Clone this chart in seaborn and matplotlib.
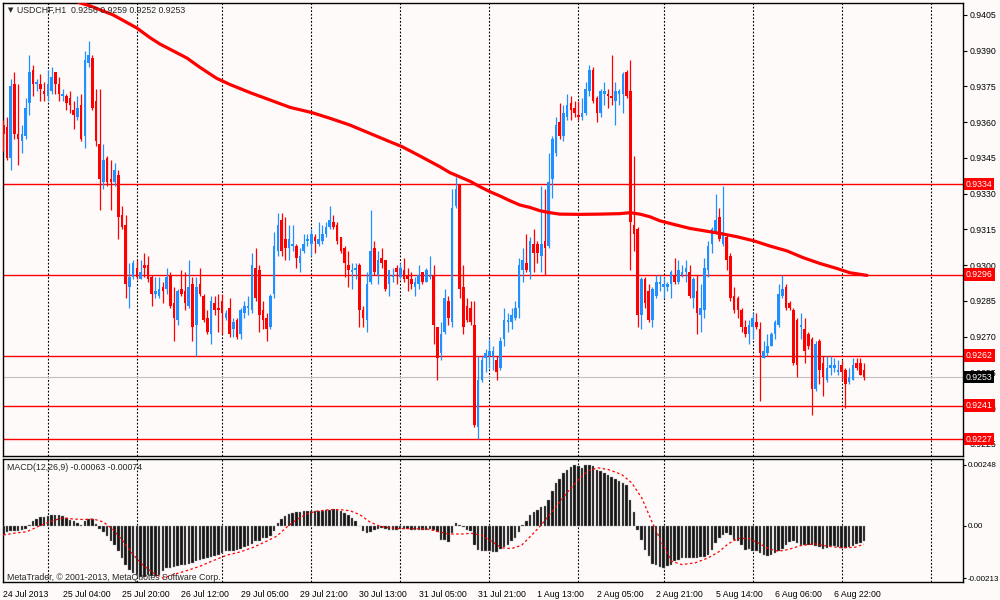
import numpy as np
import pandas as pd
import seaborn as sns
import matplotlib
matplotlib.use("Agg")
import matplotlib.pyplot as plt
import matplotlib.transforms as mtransforms

# USDCHF H1, one row per hourly bar (bar index 0 = 24 Jul 2013 12:00)
opens = [0.9359, 0.9358, 0.9345, 0.9376, 0.9355, 0.9352, 0.9354, 0.9368, 0.9382, 0.9376,
         0.9376, 0.9373, 0.9371, 0.9373, 0.9381, 0.9376, 0.9371, 0.9371, 0.9370, 0.9365,
         0.9362, 0.9367, 0.9354, 0.9385, 0.9387, 0.9369, 0.9351, 0.9335, 0.9345, 0.9336,
         0.9335, 0.9338, 0.9321, 0.9317, 0.9291, 0.9295, 0.9299, 0.9294, 0.9300, 0.9300,
         0.9295, 0.9288, 0.9287, 0.9291, 0.9290, 0.9296, 0.9284, 0.9277, 0.9290, 0.9289,
         0.9283, 0.9292, 0.9275, 0.9292, 0.9287, 0.9278, 0.9271, 0.9284, 0.9282, 0.9285,
         0.9278, 0.9282, 0.9273, 0.9277, 0.9271, 0.9280, 0.9282, 0.9281, 0.9299, 0.9298,
         0.9281, 0.9278, 0.9274, 0.9288, 0.9306, 0.9319, 0.9311, 0.9307, 0.9308, 0.9308,
         0.9301, 0.9306, 0.9310, 0.9309, 0.9312, 0.9309, 0.9310, 0.9313, 0.9316, 0.9318,
         0.9317, 0.9312, 0.9307, 0.9300, 0.9297, 0.9298, 0.9300, 0.9281, 0.9277, 0.9293,
         0.9307, 0.9296, 0.9303, 0.9302, 0.9292, 0.9295, 0.9299, 0.9295, 0.9298, 0.9296,
         0.9294, 0.9291, 0.9292, 0.9297, 0.9293, 0.9295, 0.9296, 0.9274, 0.9263, 0.9272,
         0.9285, 0.9276, 0.9325, 0.9334, 0.9291, 0.9283, 0.9282, 0.9275, 0.9232, 0.9252,
         0.9261, 0.9262, 0.9262, 0.9260, 0.9257, 0.9269, 0.9276, 0.9276, 0.9278, 0.9282,
         0.9298, 0.9301, 0.9297, 0.9309, 0.9309, 0.9304, 0.9310, 0.9308, 0.9336, 0.9347,
         0.9360, 0.9354, 0.9362, 0.9368, 0.9366, 0.9363, 0.9362, 0.9364, 0.9373, 0.9382,
         0.9370, 0.9364, 0.9372, 0.9372, 0.9371, 0.9369, 0.9372, 0.9372, 0.9381, 0.9373,
         0.9317, 0.9315, 0.9279, 0.9294, 0.9289, 0.9277, 0.9287, 0.9292, 0.9291, 0.9291,
         0.9292, 0.9296, 0.9293, 0.9296, 0.9297, 0.9297, 0.9286, 0.9289, 0.9279, 0.9281,
         0.9298, 0.9309, 0.9314, 0.9320, 0.9309, 0.9312, 0.9304, 0.9287, 0.9286, 0.9281,
         0.9274, 0.9271, 0.9274, 0.9276, 0.9273, 0.9261, 0.9263, 0.9266, 0.9271, 0.9275,
         0.9287, 0.9291, 0.9284, 0.9281, 0.9277, 0.9274, 0.9273, 0.9271, 0.9269, 0.9248,
         0.9268, 0.9259, 0.9252, 0.9257, 0.9257, 0.9255, 0.9258, 0.9256, 0.9251, 0.9252,
         0.9259, 0.9259, 0.9256]
highs = [0.9361, 0.9362, 0.9378, 0.9381, 0.9376, 0.9359, 0.9370, 0.9388, 0.9384, 0.9378,
         0.9380, 0.9377, 0.9382, 0.9383, 0.9381, 0.9379, 0.9374, 0.9372, 0.9373, 0.9369,
         0.9371, 0.9372, 0.9390, 0.9394, 0.9388, 0.9374, 0.9374, 0.9351, 0.9346, 0.9344,
         0.9343, 0.9340, 0.9325, 0.9321, 0.9301, 0.9302, 0.9302, 0.9302, 0.9305, 0.9304,
         0.9296, 0.9295, 0.9295, 0.9293, 0.9299, 0.9297, 0.9291, 0.9290, 0.9298, 0.9297,
         0.9302, 0.9295, 0.9295, 0.9299, 0.9288, 0.9281, 0.9287, 0.9287, 0.9288, 0.9288,
         0.9281, 0.9286, 0.9278, 0.9278, 0.9282, 0.9285, 0.9287, 0.9305, 0.9307, 0.9300,
         0.9285, 0.9280, 0.9288, 0.9314, 0.9322, 0.9322, 0.9320, 0.9317, 0.9317, 0.9309,
         0.9307, 0.9313, 0.9313, 0.9315, 0.9313, 0.9318, 0.9317, 0.9318, 0.9325, 0.9321,
         0.9318, 0.9312, 0.9308, 0.9306, 0.9301, 0.9301, 0.9301, 0.9283, 0.9297, 0.9323,
         0.9310, 0.9306, 0.9307, 0.9302, 0.9298, 0.9299, 0.9300, 0.9301, 0.9303, 0.9299,
         0.9297, 0.9295, 0.9300, 0.9297, 0.9299, 0.9304, 0.9300, 0.9274, 0.9276, 0.9290,
         0.9287, 0.9332, 0.9337, 0.9334, 0.9300, 0.9286, 0.9285, 0.9285, 0.9262, 0.9262,
         0.9265, 0.9269, 0.9266, 0.9262, 0.9270, 0.9282, 0.9280, 0.9282, 0.9285, 0.9303,
         0.9307, 0.9313, 0.9312, 0.9315, 0.9310, 0.9333, 0.9332, 0.9347, 0.9354, 0.9362,
         0.9368, 0.9367, 0.9372, 0.9371, 0.9369, 0.9369, 0.9370, 0.9377, 0.9384, 0.9383,
         0.9371, 0.9374, 0.9377, 0.9374, 0.9388, 0.9377, 0.9374, 0.9381, 0.9382, 0.9386,
         0.9346, 0.9316, 0.9295, 0.9295, 0.9292, 0.9291, 0.9296, 0.9296, 0.9295, 0.9293,
         0.9298, 0.9303, 0.9302, 0.9300, 0.9302, 0.9300, 0.9295, 0.9296, 0.9292, 0.9303,
         0.9310, 0.9316, 0.9330, 0.9324, 0.9333, 0.9313, 0.9305, 0.9291, 0.9287, 0.9282,
         0.9277, 0.9277, 0.9280, 0.9280, 0.9276, 0.9268, 0.9271, 0.9272, 0.9277, 0.9292,
         0.9296, 0.9292, 0.9285, 0.9282, 0.9278, 0.9280, 0.9278, 0.9272, 0.9270, 0.9268,
         0.9269, 0.9262, 0.9262, 0.9262, 0.9261, 0.9260, 0.9260, 0.9257, 0.9257, 0.9261,
         0.9261, 0.9261, 0.9259]
lows = [0.9348, 0.9344, 0.9340, 0.9353, 0.9342, 0.9347, 0.9353, 0.9363, 0.9371, 0.9373,
        0.9369, 0.9369, 0.9369, 0.9372, 0.9372, 0.9369, 0.9369, 0.9365, 0.9364, 0.9357,
        0.9361, 0.9352, 0.9349, 0.9383, 0.9365, 0.9350, 0.9323, 0.9332, 0.9333, 0.9323,
        0.9333, 0.9311, 0.9315, 0.9286, 0.9282, 0.9294, 0.9294, 0.9294, 0.9295, 0.9293,
        0.9283, 0.9286, 0.9286, 0.9284, 0.9288, 0.9282, 0.9268, 0.9275, 0.9287, 0.9281,
        0.9282, 0.9268, 0.9262, 0.9287, 0.9276, 0.9271, 0.9267, 0.9279, 0.9272, 0.9271,
        0.9277, 0.9270, 0.9270, 0.9269, 0.9269, 0.9278, 0.9279, 0.9280, 0.9285, 0.9272,
        0.9273, 0.9268, 0.9273, 0.9286, 0.9304, 0.9304, 0.9302, 0.9302, 0.9306, 0.9299,
        0.9297, 0.9305, 0.9308, 0.9304, 0.9305, 0.9308, 0.9309, 0.9312, 0.9315, 0.9315,
        0.9309, 0.9305, 0.9295, 0.9291, 0.9290, 0.9294, 0.9274, 0.9274, 0.9272, 0.9292,
        0.9296, 0.9292, 0.9299, 0.9289, 0.9287, 0.9293, 0.9292, 0.9294, 0.9293, 0.9289,
        0.9290, 0.9287, 0.9290, 0.9292, 0.9293, 0.9294, 0.9267, 0.9252, 0.9260, 0.9271,
        0.9275, 0.9274, 0.9324, 0.9286, 0.9271, 0.9276, 0.9275, 0.9232, 0.9227, 0.9251,
        0.9255, 0.9257, 0.9256, 0.9252, 0.9256, 0.9266, 0.9272, 0.9273, 0.9277, 0.9278,
        0.9293, 0.9297, 0.9294, 0.9297, 0.9301, 0.9297, 0.9296, 0.9307, 0.9328, 0.9346,
        0.9353, 0.9352, 0.9361, 0.9361, 0.9362, 0.9361, 0.9361, 0.9363, 0.9371, 0.9368,
        0.9360, 0.9362, 0.9367, 0.9366, 0.9367, 0.9359, 0.9367, 0.9364, 0.9370, 0.9298,
        0.9306, 0.9274, 0.9273, 0.9282, 0.9276, 0.9274, 0.9286, 0.9289, 0.9286, 0.9289,
        0.9286, 0.9292, 0.9292, 0.9295, 0.9293, 0.9286, 0.9282, 0.9271, 0.9272, 0.9278,
        0.9295, 0.9305, 0.9313, 0.9310, 0.9308, 0.9298, 0.9285, 0.9280, 0.9278, 0.9272,
        0.9270, 0.9267, 0.9269, 0.9273, 0.9243, 0.9261, 0.9262, 0.9266, 0.9269, 0.9274,
        0.9286, 0.9281, 0.9281, 0.9258, 0.9253, 0.9269, 0.9259, 0.9265, 0.9237, 0.9247,
        0.9250, 0.9245, 0.9251, 0.9254, 0.9255, 0.9254, 0.9252, 0.9240, 0.9250, 0.9252,
        0.9256, 0.9254, 0.9252]
closes = [0.9355, 0.9345, 0.9375, 0.9355, 0.9353, 0.9355, 0.9366, 0.9381, 0.9376, 0.9377,
          0.9374, 0.9372, 0.9376, 0.9379, 0.9376, 0.9372, 0.9372, 0.9368, 0.9367, 0.9363,
          0.9366, 0.9353, 0.9386, 0.9388, 0.9366, 0.9352, 0.9336, 0.9344, 0.9335, 0.9335,
          0.9340, 0.9320, 0.9316, 0.9292, 0.9295, 0.9301, 0.9295, 0.9297, 0.9299, 0.9294,
          0.9288, 0.9289, 0.9290, 0.9289, 0.9295, 0.9283, 0.9278, 0.9289, 0.9288, 0.9284,
          0.9291, 0.9274, 0.9291, 0.9288, 0.9277, 0.9272, 0.9285, 0.9281, 0.9281, 0.9280,
          0.9280, 0.9271, 0.9276, 0.9270, 0.9281, 0.9283, 0.9283, 0.9300, 0.9286, 0.9279,
          0.9277, 0.9273, 0.9287, 0.9308, 0.9317, 0.9306, 0.9307, 0.9311, 0.9309, 0.9303,
          0.9304, 0.9309, 0.9311, 0.9313, 0.9310, 0.9311, 0.9313, 0.9316, 0.9319, 0.9316,
          0.9310, 0.9306, 0.9301, 0.9298, 0.9298, 0.9299, 0.9281, 0.9278, 0.9292, 0.9306,
          0.9297, 0.9302, 0.9301, 0.9290, 0.9298, 0.9296, 0.9297, 0.9299, 0.9294, 0.9294,
          0.9292, 0.9293, 0.9296, 0.9293, 0.9298, 0.9296, 0.9275, 0.9261, 0.9271, 0.9286,
          0.9278, 0.9324, 0.9332, 0.9290, 0.9274, 0.9277, 0.9276, 0.9233, 0.9252, 0.9260,
          0.9263, 0.9264, 0.9264, 0.9255, 0.9268, 0.9277, 0.9277, 0.9279, 0.9282, 0.9300,
          0.9302, 0.9298, 0.9310, 0.9305, 0.9305, 0.9309, 0.9307, 0.9335, 0.9353, 0.9359,
          0.9354, 0.9364, 0.9367, 0.9365, 0.9364, 0.9362, 0.9364, 0.9374, 0.9382, 0.9369,
          0.9364, 0.9373, 0.9373, 0.9371, 0.9370, 0.9373, 0.9373, 0.9380, 0.9371, 0.9318,
          0.9313, 0.9279, 0.9294, 0.9284, 0.9277, 0.9290, 0.9293, 0.9293, 0.9292, 0.9292,
          0.9297, 0.9293, 0.9298, 0.9297, 0.9299, 0.9287, 0.9294, 0.9280, 0.9282, 0.9299,
          0.9308, 0.9315, 0.9319, 0.9311, 0.9314, 0.9302, 0.9286, 0.9281, 0.9281, 0.9274,
          0.9271, 0.9275, 0.9278, 0.9274, 0.9263, 0.9264, 0.9266, 0.9271, 0.9276, 0.9288,
          0.9290, 0.9282, 0.9282, 0.9259, 0.9258, 0.9275, 0.9264, 0.9266, 0.9248, 0.9267,
          0.9256, 0.9253, 0.9257, 0.9258, 0.9258, 0.9256, 0.9255, 0.9250, 0.9253, 0.9258,
          0.9257, 0.9254, 0.9253]

# MACD(12,26,9) main line, one value per bar
macd = [-0.00038, -0.00024, -0.00022, -0.00019, -0.00019, -0.00016, -0.00011, 0.00005, 0.00019, 0.00030,
        0.00035, 0.00035, 0.00042, 0.00046, 0.00046, 0.00043, 0.00039, 0.00033, 0.00026, 0.00019,
        0.00011, 0.00005, 0.00019, 0.00028, 0.00028, 0.00008, -0.00011, -0.00024, -0.00043, -0.00062,
        -0.00079, -0.00103, -0.00130, -0.00157, -0.00178, -0.00191, -0.00198, -0.00209, -0.00209, -0.00201,
        -0.00205, -0.00205, -0.00198, -0.00184, -0.00173, -0.00171, -0.00168, -0.00164, -0.00160, -0.00157,
        -0.00154, -0.00150, -0.00144, -0.00137, -0.00133, -0.00130, -0.00127, -0.00123, -0.00117, -0.00110,
        -0.00103, -0.00100, -0.00100, -0.00096, -0.00092, -0.00087, -0.00083, -0.00073, -0.00062, -0.00060,
        -0.00051, -0.00049, -0.00042, -0.00022, 0.00012, 0.00030, 0.00039, 0.00049, 0.00053, 0.00057,
        0.00057, 0.00060, 0.00060, 0.00062, 0.00062, 0.00062, 0.00062, 0.00064, 0.00066, 0.00069,
        0.00066, 0.00060, 0.00053, 0.00043, 0.00033, 0.00019, -0.00001, -0.00019, -0.00028, -0.00024,
        -0.00015, -0.00011, -0.00008, -0.00012, -0.00015, -0.00015, -0.00015, -0.00014, -0.00011, -0.00011,
        -0.00015, -0.00016, -0.00015, -0.00015, -0.00015, -0.00014, -0.00015, -0.00023, -0.00058, -0.00056,
        -0.00065, -0.00028, 0.00012, 0.00005, -0.00005, -0.00015, -0.00022, -0.00079, -0.00096, -0.00103,
        -0.00103, -0.00103, -0.00106, -0.00106, -0.00092, -0.00087, -0.00076, -0.00062, -0.00049, -0.00024,
        0.00005, 0.00019, 0.00043, 0.00057, 0.00066, 0.00076, 0.00080, 0.00107, 0.00141, 0.00175,
        0.00192, 0.00215, 0.00229, 0.00238, 0.00247, 0.00243, 0.00236, 0.00247, 0.00248, 0.00243,
        0.00229, 0.00222, 0.00215, 0.00206, 0.00198, 0.00192, 0.00184, 0.00175, 0.00165, 0.00107,
        0.00057, -0.00015, -0.00056, -0.00096, -0.00123, -0.00154, -0.00160, -0.00168, -0.00171, -0.00164,
        -0.00157, -0.00144, -0.00137, -0.00130, -0.00130, -0.00130, -0.00130, -0.00130, -0.00127, -0.00127,
        -0.00117, -0.00096, -0.00069, -0.00049, -0.00038, -0.00028, -0.00035, -0.00056, -0.00060, -0.00079,
        -0.00096, -0.00092, -0.00100, -0.00103, -0.00110, -0.00119, -0.00123, -0.00119, -0.00110, -0.00103,
        -0.00092, -0.00079, -0.00065, -0.00062, -0.00069, -0.00076, -0.00079, -0.00079, -0.00079, -0.00083,
        -0.00087, -0.00092, -0.00089, -0.00083, -0.00083, -0.00087, -0.00089, -0.00089, -0.00087, -0.00080,
        -0.00074, -0.00069, -0.00063]

# MACD signal line, read at sample bars
sig_bars = [0, 3.6, 6.3, 9.0, 11.7, 14.4, 16.2, 18.9, 21.6, 24.3, 27.0, 29.6, 32.3, 35.0, 37.7,
            40.4, 43.1, 45.8, 49.4, 53.0, 56.6, 60.2, 63.8, 67.4, 71.0, 73.7, 76.4, 79.1, 81.8,
            84.5, 88.0, 90.7, 93.4, 96.1, 98.8, 101.5, 104.2, 106.9, 110.5, 114.1, 116.4, 120.0,
            123.6, 126.2, 128.9, 131.6, 134.3, 137.0, 139.7, 142.4, 145.1, 148.7, 152.3, 155.0,
            157.7, 160.4, 163.1, 166.7, 169.4, 172.1, 174.8, 177.5, 180.2, 182.9, 186.5, 190.0,
            192.8, 195.4, 198.1, 200.8, 203.5, 206.2, 208.9, 211.6, 215.2, 218.8, 222.4, 226.0,
            229.6, 232.0]
sig_vals = [-0.00037, -0.00028, -0.00024, -0.00005, 0.00012, 0.00026, 0.00033, 0.00028, 0.00026,
            0.00028, 0.00016, -0.00015, -0.00062, -0.00117, -0.00160, -0.00191, -0.00212, -0.00198,
            -0.00182, -0.00164, -0.00141, -0.00119, -0.00106, -0.00087, -0.00062, -0.00042, -0.00005,
            0.00026, 0.00049, 0.00060, 0.00066, 0.00066, 0.00062, 0.00046, 0.00016, -0.00001,
            -0.00008, -0.00011, -0.00011, -0.00012, -0.00020, -0.00033, -0.00033, -0.00030, -0.00038,
            -0.00062, -0.00089, -0.00092, -0.00079, -0.00038, 0.00005, 0.00073, 0.00141, 0.00188,
            0.00225, 0.00236, 0.00229, 0.00209, 0.00175, 0.00114, 0.00019, -0.00069, -0.00144,
            -0.00157, -0.00150, -0.00130, -0.00106, -0.00073, -0.00051, -0.00051, -0.00069, -0.00092,
            -0.00103, -0.00096, -0.00079, -0.00073, -0.00083, -0.00089, -0.00087, -0.00074]

# moving average (thick red), read at sample bars
ma_bars = [18.0, 20.7, 23.4, 29.6, 36.0, 39.5, 42.2, 49.5, 53.0, 57.5, 61.1, 66.5, 71.9, 77.3,
           83.2, 88.1, 93.4, 98.8, 104.2, 107.5, 112.3, 117.7, 120.4, 125.8, 128.5, 131.2, 133.9,
           136.6, 139.3, 142.0, 144.7, 147.4, 150.0, 155.4, 160.8, 166.2, 168.9, 171.6, 174.3,
           177.0, 179.7, 185.1, 188.6, 193.2, 197.8, 202.3, 206.7, 211.2, 215.5, 220.1, 224.7,
           228.2, 232.8]
ma_vals = [0.94125, 0.94100, 0.94088, 0.94050, 0.93995, 0.93955, 0.93928, 0.93869, 0.93830,
           0.93784, 0.93758, 0.93724, 0.93693, 0.93662, 0.93640, 0.93616, 0.93588, 0.93553,
           0.93518, 0.93497, 0.93458, 0.93413, 0.93388, 0.93352, 0.93329, 0.93308, 0.93290,
           0.93270, 0.93252, 0.93242, 0.93228, 0.93220, 0.93214, 0.93213, 0.93214, 0.93216,
           0.93220, 0.93214, 0.93203, 0.93186, 0.93175, 0.93154, 0.93145, 0.93133, 0.93119,
           0.93102, 0.93080, 0.93060, 0.93032, 0.93007, 0.92986, 0.92968, 0.92957]

# horizontal levels drawn on the chart
levels = [0.9334, 0.9296, 0.9262, 0.9241, 0.9227]
bid = 0.9253

# day separators (bar index of first bar of each day)
day_bars = [12, 36, 59, 83, 107, 131, 155, 178, 202, 226, 250]

time_bars = [0, 16, 32, 48, 64, 80, 96, 112, 128, 144, 160, 176, 192, 208, 224]
time_labels = ["24 Jul 2013", "25 Jul 04:00", "25 Jul 20:00", "26 Jul 12:00", "29 Jul 05:00",
               "29 Jul 21:00", "30 Jul 13:00", "31 Jul 05:00", "31 Jul 21:00", "1 Aug 13:00",
               "2 Aug 05:00", "2 Aug 21:00", "5 Aug 14:00", "6 Aug 06:00", "6 Aug 22:00"]

price_ticks = [0.9225, 0.9240, 0.9255, 0.9270, 0.9285, 0.9300, 0.9315, 0.9330,
               0.9345, 0.9360, 0.9375, 0.9390, 0.9405]
macd_ticks = [0.00248, 0.0, -0.00213]
macd_tick_labels = ["0.00248", "0.00", "-0.00213"]

bg = "#fffafa"
bull = "#1e90ff"
bear = "#ff0000"

sns.set_style("white")
plt.rcParams["font.family"] = ["Liberation Sans", "DejaVu Sans"]

df = pd.DataFrame({"open": opens, "high": highs, "low": lows, "close": closes})
df["bar"] = np.arange(len(df))
df["up"] = df["close"] >= df["open"]
df["color"] = np.where(df["up"], bull, bear)

fig = plt.figure(figsize=(10, 6), dpi=100, facecolor=bg)
ax = fig.add_axes([0.003, 0.24, 0.960, 0.755], facecolor=bg)
ax2 = fig.add_axes([0.003, 0.03, 0.960, 0.205], facecolor=bg)

xlim = (-0.08, 258.7)

# --- price panel ---
for b in day_bars:
    ax.axvline(b, color="black", lw=0.8, ls=(0, (1.6, 1.6)), zorder=1)
    ax2.axvline(b, color="black", lw=0.8, ls=(0, (1.6, 1.6)), zorder=1)

for lv in levels:
    ax.axhline(lv, color="red", lw=1.0, zorder=2)
ax.axhline(bid, color="#c0c0c0", lw=0.8, zorder=2)

ax.vlines(df["bar"], df["low"], df["high"], colors=df["color"], lw=0.9, zorder=3)
body_lo = df[["open", "close"]].min(axis=1)
body_h = (df["close"] - df["open"]).abs().clip(lower=0.00004)
ax.bar(df["bar"], body_h, bottom=body_lo, width=0.7, color=df["color"], linewidth=0, zorder=4)

sns.lineplot(x=ma_bars, y=ma_vals, ax=ax, color="red", lw=2.3, zorder=5)

ax.set_xlim(*xlim)
ax.set_ylim(0.92199, 0.94100)
ax.set_xticks([])
ax.yaxis.tick_right()
ax.set_yticks(price_ticks)
ax.set_yticklabels(["%.4f" % t for t in price_ticks])
ax.tick_params(axis="y", direction="out", length=3, width=0.8, pad=1.5, labelsize=6.3, colors="black")
ax.set_xlabel("")
ax.set_ylabel("")

trans = mtransforms.blended_transform_factory(ax.transAxes, ax.transData)
for lv in levels:
    ax.text(1.003, lv, "%.4f" % lv, transform=trans, color="white", fontsize=6.3, va="center", ha="left",
            bbox=dict(boxstyle="square,pad=0.2", fc="red", ec="none"), clip_on=False, zorder=10)
ax.text(1.003, bid, "%.4f" % bid, transform=trans, color="white", fontsize=6.3, va="center", ha="left",
        bbox=dict(boxstyle="square,pad=0.2", fc="black", ec="none"), clip_on=False, zorder=10)

# --- MACD panel ---
ax2.bar(df["bar"], macd, width=0.68, color="#151515", edgecolor="#9a9a9a", linewidth=0.3, zorder=3)
sns.lineplot(x=sig_bars, y=sig_vals, ax=ax2, color="red", lw=0.9, linestyle=(0, (2, 2)), zorder=4)
ax2.set_xlim(*xlim)
ax2.set_ylim(-0.00228, 0.00272)
ax2.yaxis.tick_right()
ax2.set_yticks(macd_ticks)
ax2.set_yticklabels(macd_tick_labels)
ax2.tick_params(axis="y", direction="out", length=2.5, width=0.8, pad=1, labelsize=5.8, colors="black")
ax2.set_xticks(time_bars)
ax2.set_xticklabels(time_labels, ha="left")
ax2.tick_params(axis="x", direction="out", length=4, width=0.8, pad=2, labelsize=6.3, colors="black")
ax2.set_xlabel("")
ax2.set_ylabel("")

for a in (ax, ax2):
    for s in a.spines.values():
        s.set_color("black")
        s.set_linewidth(1.0)
        s.set_visible(True)

# header texts
fig.text(0.0075, 1 - 10.5 / 600, "\u25bc", fontsize=5, family=["DejaVu Sans"], va="center", ha="left")
fig.text(0.017, 1 - 10 / 600, "USDCHF,H1  0.9256 0.9259 0.9252 0.9253", fontsize=6.3, va="center", ha="left")
fig.text(0.007, 1 - 467 / 600, "MACD(12,26,9) -0.00063 -0.00074", fontsize=6.3, va="center", ha="left")
fig.text(0.007, 1 - 577 / 600, "MetaTrader, \u00a9 2001-2013, MetaQuotes Software Corp.", fontsize=6.3,
         va="center", ha="left")

fig.savefig("out.png", dpi=100, facecolor=bg)
